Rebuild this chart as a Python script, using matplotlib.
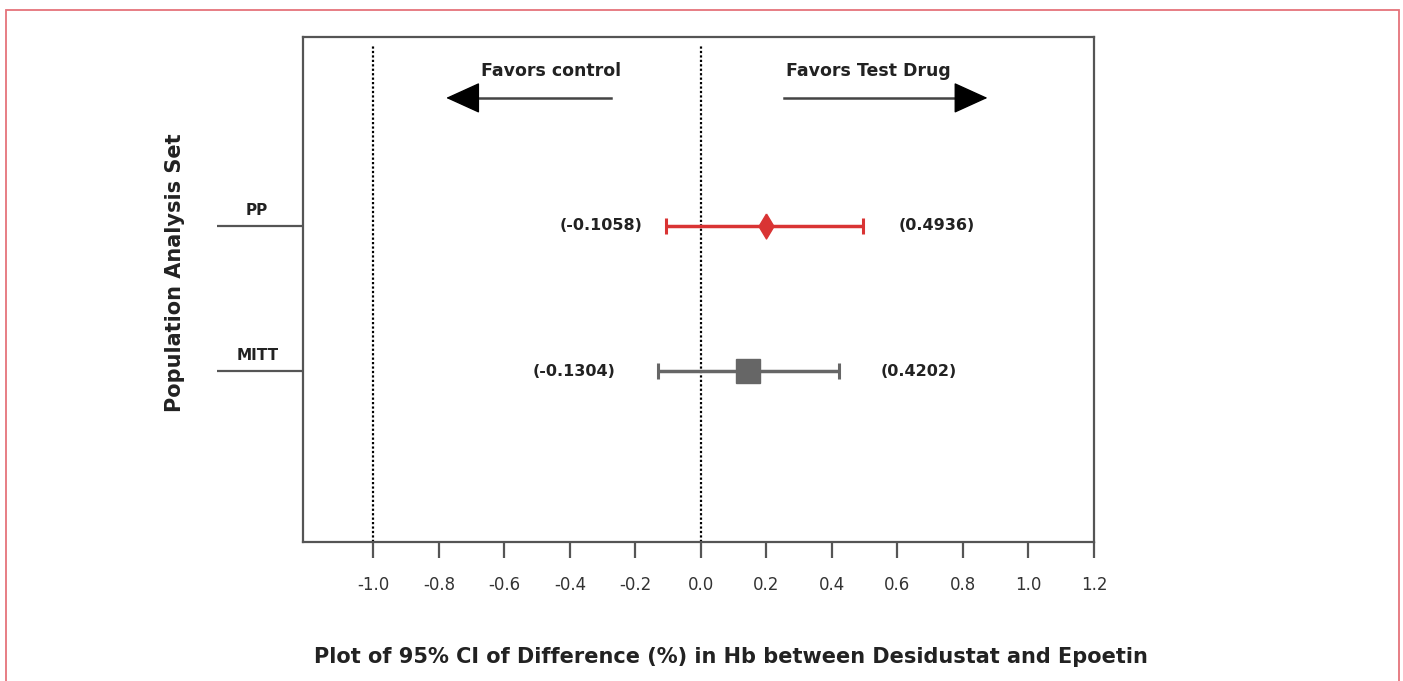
import matplotlib
matplotlib.use("Agg")
import matplotlib.pyplot as plt
from matplotlib.patches import Rectangle
from matplotlib.transforms import blended_transform_factory

# 95% CI of the Hb difference for each analysis set
groups = ["PP", "MITT"]
row_y = [3, 2]
estimate = [0.20, 0.1449]
ci_low = [-0.1058, -0.1304]
ci_high = [0.4936, 0.4202]
xticks = [-1.0, -0.8, -0.6, -0.4, -0.2, 0.0, 0.2, 0.4, 0.6, 0.8, 1.0, 1.2]

colors = ["#d93434", "#666666"]
# tall narrow diamond for PP, square for MITT
markers = [[(0, 1), (0.6, 0), (0, -1), (-0.6, 0), (0, 1)], "s"]
msizes = [18, 17]
edge = "#555555"

plt.rcParams["font.family"] = ["DejaVu Sans"]

fig = plt.figure(figsize=(14.03, 6.81), dpi=100)
ax = fig.add_axes([0.216, 0.2041, 0.5637, 0.7416])

# error bars with point estimates
for i in range(len(groups)):
    y = row_y[i]
    ax.errorbar(estimate[i], y,
                xerr=[[estimate[i] - ci_low[i]], [ci_high[i] - estimate[i]]],
                fmt="none", ecolor=colors[i],
                elinewidth=2.5, capsize=6, capthick=2.2, zorder=3)
    ax.plot(estimate[i], y, marker=markers[i], color=colors[i],
            ms=msizes[i], linestyle="none", zorder=4)

# CI bounds written beside the caps
left_gap = [17, 31]
right_gap = [26, 30]
for i in range(len(groups)):
    ax.annotate("(%.4f)" % ci_low[i], (ci_low[i], row_y[i]),
                xytext=(-left_gap[i], 0), textcoords="offset points",
                ha="right", va="center", fontsize=11.5, fontweight="bold",
                color="#222222")
    ax.annotate("(%.4f)" % ci_high[i], (ci_high[i], row_y[i]),
                xytext=(right_gap[i], 0), textcoords="offset points",
                ha="left", va="center", fontsize=11.5, fontweight="bold",
                color="#222222")

# reference lines at -1 and 0
for xv in [-1.0, 0.0]:
    ax.axvline(xv, ymin=0, ymax=0.985, color="black", lw=1.6,
               linestyle=(0, (1, 1)), zorder=1)

# direction arrows
ax.plot([-0.274, -0.72], [3.883, 3.883], color="#444444", lw=1.8)
ax.annotate("", xy=(-0.778, 3.883), xytext=(-0.70, 3.883),
            arrowprops=dict(arrowstyle="-|>,head_length=2.2,head_width=1.0",
                            color="black", lw=1, shrinkA=0, shrinkB=0))
ax.plot([0.255, 0.80], [3.883, 3.883], color="#444444", lw=1.8)
ax.annotate("", xy=(0.875, 3.883), xytext=(0.797, 3.883),
            arrowprops=dict(arrowstyle="-|>,head_length=2.2,head_width=1.0",
                            color="black", lw=1, shrinkA=0, shrinkB=0))
ax.text(-0.459, 4.069, "Favors control", ha="center", va="center",
        fontsize=12.5, fontweight="bold", color="#222222")
ax.text(0.512, 4.069, "Favors Test Drug", ha="center", va="center",
        fontsize=12.5, fontweight="bold", color="#222222")

ax.set_xlim(-1.215, 1.2)
ax.set_ylim(0.821, 4.303)
ax.set_xticks(xticks)
ax.set_xticklabels(["%.1f" % t for t in xticks])
ax.set_yticks(row_y)
ax.set_yticklabels([])

ax.tick_params(axis="x", length=11.5, width=1.6, color=edge, pad=13,
               labelsize=12, labelcolor="#333333")
ax.tick_params(axis="y", length=62, width=1.6, color=edge)
for s in ax.spines.values():
    s.set_color(edge)
    s.set_linewidth(1.6)

# group names sit above the long y tick lines
trans = blended_transform_factory(ax.transAxes, ax.transData)
for i in range(len(groups)):
    ax.annotate(groups[i], (0, row_y[i]), xycoords=trans,
                xytext=(-33, 11), textcoords="offset points",
                ha="center", va="center", fontsize=11, fontweight="bold",
                color="#222222")

fig.text(0.1247, 0.599, "Population Analysis Set", rotation=90,
         ha="center", va="center", fontsize=15, fontweight="bold",
         color="#222222")
fig.text(0.521, 0.035, "Plot of 95% CI of Difference (%) in Hb between Desidustat and Epoetin",
         ha="center", va="center", fontsize=15, fontweight="bold",
         color="#222222")

# thin frame round the figure
fig.patches.append(Rectangle((6 / 1403, -0.05), 1393 / 1403, 1.05 - 10 / 681,
                             transform=fig.transFigure, fill=False,
                             edgecolor="#e5737b", lw=1.3))

fig.savefig("out.png", dpi=100)
